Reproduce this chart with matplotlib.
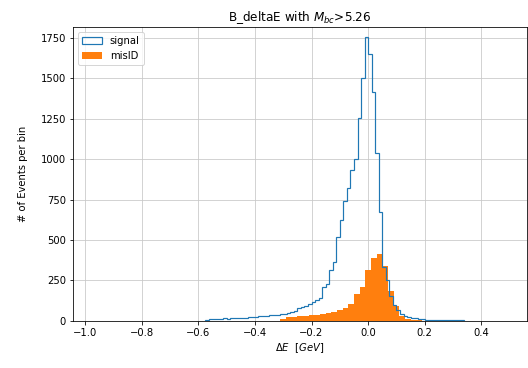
import matplotlib
matplotlib.use('Agg')
import matplotlib.pyplot as plt
import numpy as np

# signal: bins 0.0125 wide, from -0.575 to 0.3375
signal_edges = np.round(np.arange(-0.575, 0.3376, 0.0125), 4)
signal_counts = [4, 8, 10, 12, 11, 17, 12, 14, 13, 18, 15, 18, 20, 22, 24, 26,
                 27, 30, 32, 34, 37, 40, 43, 48, 55, 62, 76, 84, 92, 100, 117,
                 128, 140, 210, 225, 313, 360, 520, 625, 740, 820, 930, 1000,
                 1254, 1505, 1760, 1650, 1419, 1038, 675, 334, 251, 150, 96,
                 65, 40, 30, 22, 18, 14, 10, 8, 6, 5, 4, 5, 3, 4, 3, 2, 2, 4, 2]

# misID: bins 0.02 wide, from -0.31 to 0.19
misid_edges = np.round(np.arange(-0.31, 0.1901, 0.02), 4)
misid_counts = [10, 22, 24, 27, 30, 33, 35, 40, 46, 55, 68, 80, 100, 165, 205,
                313, 390, 415, 335, 180, 90, 30, 12, 6, 3]

signal_centers = (signal_edges[:-1] + signal_edges[1:]) / 2
misid_centers = (misid_edges[:-1] + misid_edges[1:]) / 2

fig = plt.figure(figsize=(528 / 72, 368 / 72), dpi=72)
ax = fig.add_axes([0.138, 0.129, 0.86, 0.798])

ax.hist(signal_centers, bins=signal_edges, weights=signal_counts,
        histtype='step', color='#1f77b4', linewidth=1.2, label='signal', zorder=3)
ax.hist(misid_centers, bins=misid_edges, weights=misid_counts,
        color='#ff7f0e', label='misID', zorder=2)

ax.set_xlim(-1.043, 0.561)
ax.set_ylim(0, 1820)
ax.set_xticks([-1.0, -0.8, -0.6, -0.4, -0.2, 0.0, 0.2, 0.4])
ax.set_yticks(range(0, 1751, 250))
ax.grid(True, color='#c8c8c8')
ax.set_axisbelow(True)

ax.set_title('B_deltaE with $M_{bc}$>5.26')
ax.set_xlabel(r'$\Delta E\ \ [GeV]$')
ax.set_ylabel('# of Events per bin', labelpad=12)
ax.legend(loc='upper left')

fig.savefig('out.png', dpi=72)
